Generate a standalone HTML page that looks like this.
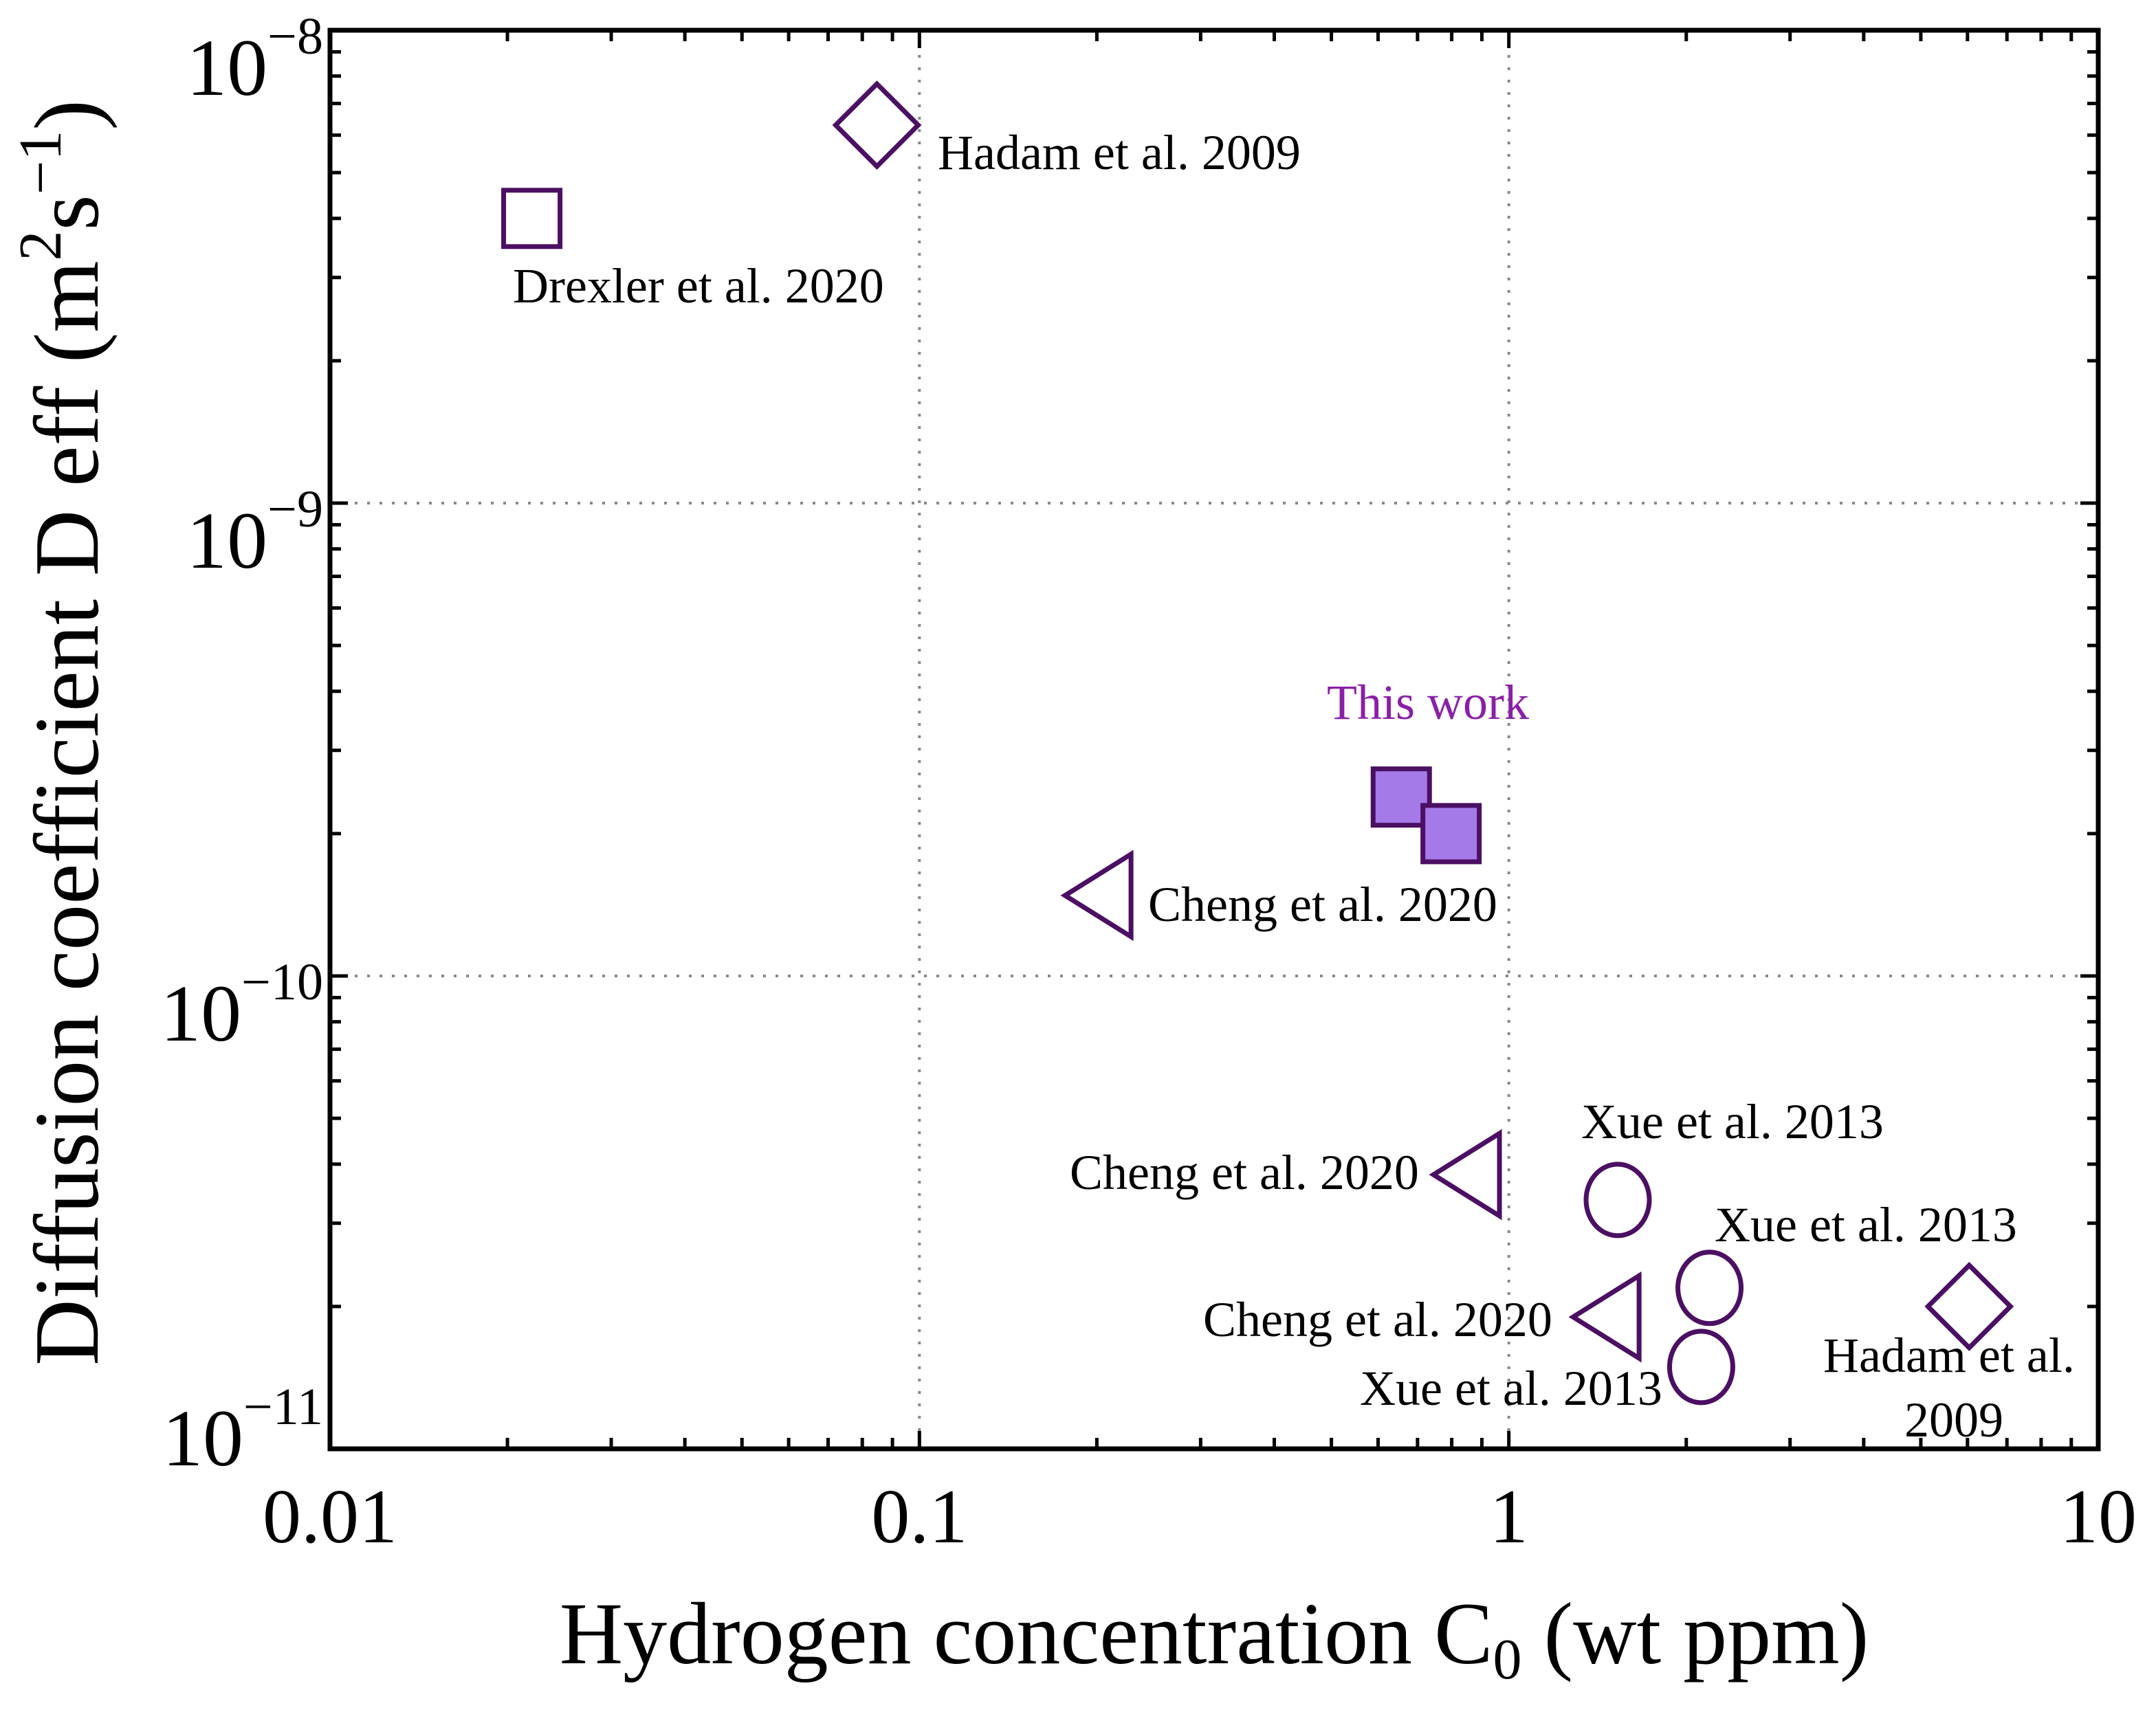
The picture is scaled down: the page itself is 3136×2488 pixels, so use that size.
<!DOCTYPE html>
<html><head><meta charset="utf-8"><style>
html,body{margin:0;padding:0;background:#fff}
svg{display:block}
text{font-family:"Liberation Serif",serif}
</style></head><body>
<svg id="chart" xmlns="http://www.w3.org/2000/svg" width="3136" height="2488" viewBox="0 0 3136 2488">
<g id="grid"></g>
<g id="marks"></g>
<g id="axes"></g>
<g id="ann"></g>
<text x="1766" y="2420" font-size="128" text-anchor="middle">Hydrogen concentration C<tspan font-size="84" dy="22">0</tspan><tspan dy="-22"> (wt ppm)</tspan></text>
<text transform="translate(142,1066) rotate(-90)" font-size="134" text-anchor="middle">Diffusion coefficient D eff (m<tspan font-size="88" dy="-54">2</tspan><tspan dy="54">s</tspan><tspan font-size="88" dy="-54">−1</tspan><tspan dy="54">)</tspan></text>
</svg>
<script>
const xTicks=[0.01,0.1,1,10];
const xTickLabels=["0.01","0.1","1","10"];
const yTicks=[1e-11,1e-10,1e-9,1e-8];
const yTickExps=["−11","−10","−9","−8"];
const pointNames=["drexler-2020","hadam-2009-a","this-work-a","this-work-b","cheng-2020-a","cheng-2020-b","cheng-2020-c","xue-2013-a","xue-2013-b","xue-2013-c","hadam-2009-b"];
const pointX=[0.022,0.0847,0.657,0.798,0.202,0.852,1.47,1.53,2.19,2.12,6.04];
const pointY=[4.0e-9,6.3e-9,2.39e-10,2.0e-10,1.48e-10,3.8e-11,1.9e-11,3.36e-11,2.19e-11,1.49e-11,2.0e-11];
const pointShape=["square","diamond","fsquare","fsquare","tri","tri","tri","circle","circle","circle","diamond"];

const L=480,R=3052,T=44,B=2108;
const sx=v=>L+(Math.log10(v)+2)/3*(R-L);
const sy=v=>B-(Math.log10(v)+11)/3*(B-T);
const NS="http://www.w3.org/2000/svg";
function mk(tag,attrs,parent){const e=document.createElementNS(NS,tag);for(const k in attrs)e.setAttribute(k,attrs[k]);parent.appendChild(e);return e;}
const grid=document.getElementById('grid'),axes=document.getElementById('axes'),marks=document.getElementById('marks'),ann=document.getElementById('ann');
[0.1,1].forEach(v=>{const l=mk('line',{x1:sx(v),x2:sx(v),y1:T,y2:B,stroke:'#888','stroke-width':4,'stroke-dasharray':'4 14'},grid);

});
[1e-10,1e-9].forEach(v=>{const l=mk('line',{x1:L,x2:R,y1:sy(v),y2:sy(v),stroke:'#888','stroke-width':4,'stroke-dasharray':'4 14'},grid);

});
const fr=mk('rect',{x:L,y:T,width:R-L,height:B-T,fill:'none',stroke:'#000','stroke-width':7},axes);


for(let d=-2;d<1;d++){for(let m=1;m<=9;m++){const v=m*Math.pow(10,d);const len=m===1?26:16;const x=sx(v);
mk('line',{x1:x,x2:x,y1:B,y2:B-len,stroke:'#000','stroke-width':5},axes);
mk('line',{x1:x,x2:x,y1:T,y2:T+len,stroke:'#000','stroke-width':5},axes);}}
for(let d=-11;d<-8;d++){for(let m=1;m<=9;m++){const v=m*Math.pow(10,d);const len=m===1?26:16;const y=sy(v);
mk('line',{x1:L,x2:L+len,y1:y,y2:y,stroke:'#000','stroke-width':5},axes);
mk('line',{x1:R,x2:R-len,y1:y,y2:y,stroke:'#000','stroke-width':5},axes);}}
xTicks.forEach((v,i)=>{const t=mk('text',{x:sx(v),y:2244,'font-size':112,'text-anchor':'middle'},axes);t.textContent=xTickLabels[i];

});
yTicks.forEach((v,i)=>{const off=i===0?24:94;const t=mk('text',{x:470,y:sy(v)+off,'font-size':118,'text-anchor':'end'},axes);
const a=mk('tspan',{},t);a.textContent='10';const b=mk('tspan',{'font-size':76,dy:-60},t);b.textContent=yTickExps[i];

});
const C='#4b0f63';
pointX.forEach((xv,i)=>{const x=sx(xv),y=sy(pointY[i]);const s=pointShape[i];let e;
if(s==='square')e=mk('rect',{x:x-41,y:y-41,width:82,height:82,fill:'none',stroke:C,'stroke-width':7},marks);
else if(s==='fsquare')e=mk('rect',{x:x-41,y:y-41,width:82,height:82,fill:'#a57ae8',stroke:C,'stroke-width':7},marks);
else if(s==='diamond')e=mk('polygon',{points:`${x},${y-60} ${x+60},${y} ${x},${y+60} ${x-60},${y}`,fill:'none',stroke:C,'stroke-width':7},marks);
else if(s==='tri')e=mk('polygon',{points:`${x+46},${y-60} ${x+46},${y+60} ${x-50},${y}`,fill:'none',stroke:C,'stroke-width':7},marks);
else e=mk('ellipse',{cx:x,cy:y,rx:46,ry:52,fill:'none',stroke:C,'stroke-width':7},marks);

});
const anns=[["Hadam et al. 2009",1364,246,'#000'],["Drexler et al. 2020",746,440,'#000'],["This work",1930,1046,'#8a1fa8'],["Cheng et al. 2020",1670,1340,'#000'],["Xue et al. 2013",2300,1656,'#000'],["Cheng et al. 2020",1556,1730,'#000'],["Xue et al. 2013",2494,1806,'#000'],["Cheng et al. 2020",1750,1944,'#000'],["Xue et al. 2013",1978,2044,'#000'],["Hadam et al.",2652,1996,'#000'],["2009",2770,2090,'#000']];
anns.forEach(a=>{const t=mk('text',{x:a[1],y:a[2],'font-size':72,fill:a[3]},ann);t.textContent=a[0];

});
</script>
</body></html>
